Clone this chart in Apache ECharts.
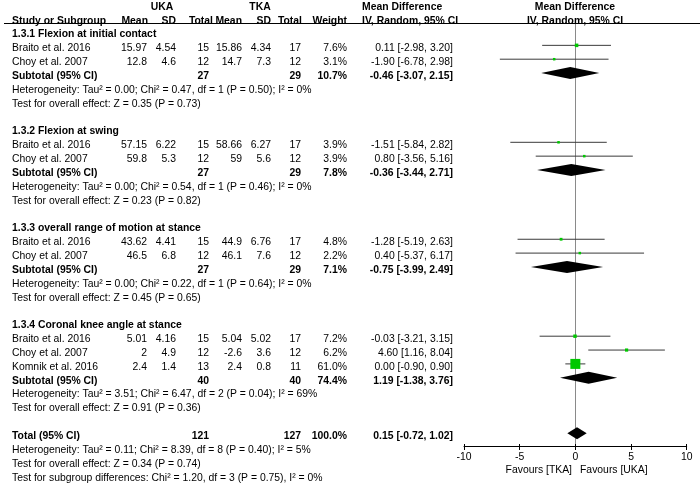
<!DOCTYPE html>
<html><head><meta charset="utf-8">
<script src="https://cdn.jsdelivr.net/npm/echarts@6/dist/echarts.min.js"></script>
<style>html,body{margin:0;padding:0;background:#fff}#c{width:700px;height:483px}</style>
</head><body><div id="c"></div>
<script>
// ---------------- DATA ----------------
const groupTitles = ['1.3.1 Flexion at initial contact', '1.3.2 Flexion at swing', '1.3.3 overall range of motion at stance', '1.3.4 Coronal knee angle at stance'];
const studyNames = ['Braito et al. 2016', 'Choy et al. 2007', 'Braito et al. 2016', 'Choy et al. 2007', 'Braito et al. 2016', 'Choy et al. 2007', 'Braito et al. 2016', 'Choy et al. 2007', 'Komnik et al. 2016'];
const studyGroup = [0, 0, 1, 1, 2, 2, 3, 3, 3];
const ukaMean = [15.97, 12.8, 57.15, 59.8, 43.62, 46.5, 5.01, 2, 2.4];
const ukaSD = [4.54, 4.6, 6.22, 5.3, 4.41, 6.8, 4.16, 4.9, 1.4];
const ukaN = [15, 12, 15, 12, 15, 12, 15, 12, 13];
const tkaMean = [15.86, 14.7, 58.66, 59, 44.9, 46.1, 5.04, -2.6, 2.4];
const tkaSD = [4.34, 7.3, 6.27, 5.6, 6.76, 7.6, 5.02, 3.6, 0.8];
const tkaN = [17, 12, 17, 12, 17, 12, 17, 12, 11];
const studyWeight = [7.6, 3.1, 3.9, 3.9, 4.8, 2.2, 7.2, 6.2, 61.0];
const studyMD = [0.11, -1.90, -1.51, 0.80, -1.28, 0.40, -0.03, 4.60, 0.00];
const studyLo = [-2.98, -6.78, -5.84, -3.56, -5.19, -5.37, -3.21, 1.16, -0.90];
const studyHi = [3.20, 2.98, 2.82, 5.16, 2.63, 6.17, 3.15, 8.04, 0.90];

const subUkaN = [27, 27, 27, 40];
const subTkaN = [29, 29, 29, 40];
const subWeight = [10.7, 7.8, 7.1, 74.4];
const subMD = [-0.46, -0.36, -0.75, 1.19];
const subLo = [-3.07, -3.44, -3.99, -1.38];
const subHi = [2.15, 2.71, 2.49, 3.76];
const subHet = [
  'Heterogeneity: Tau² = 0.00; Chi² = 0.47, df = 1 (P = 0.50); I² = 0%',
  'Heterogeneity: Tau² = 0.00; Chi² = 0.54, df = 1 (P = 0.46); I² = 0%',
  'Heterogeneity: Tau² = 0.00; Chi² = 0.22, df = 1 (P = 0.64); I² = 0%',
  'Heterogeneity: Tau² = 3.51; Chi² = 6.47, df = 2 (P = 0.04); I² = 69%'
];
const subTest = [
  'Test for overall effect: Z = 0.35 (P = 0.73)',
  'Test for overall effect: Z = 0.23 (P = 0.82)',
  'Test for overall effect: Z = 0.45 (P = 0.65)',
  'Test for overall effect: Z = 0.91 (P = 0.36)'
];
const totalUkaN = [121];
const totalTkaN = [127];
const totalWeight = [100.0];
const totalMD = [0.15];
const totalLo = [-0.72];
const totalHi = [1.02];
const totalNotes = [
  'Heterogeneity: Tau² = 0.11; Chi² = 8.39, df = 8 (P = 0.40); I² = 5%',
  'Test for overall effect: Z = 0.34 (P = 0.74)',
  'Test for subgroup differences: Chi² = 1.20, df = 3 (P = 0.75), I² = 0%'
];
const xTicks = [-10, -5, 0, 5, 10];
const favourLabels = ['Favours [TKA]', 'Favours [UKA]'];

// ---------------- LAYOUT ----------------
const FONT = '"Liberation Sans", Arial, sans-serif';
const FS = 10.4;
const PLOT_L = 464, PLOT_R = 13.3;
const HEAD_Y = 23.5, AXIS_Y = 446;
const TXT_DY = 1, MARK_DY = -2;
const COL = { name: 12, um: 147, usd: 176, un: 209, tm: 242, tsd: 271, tn: 301, w: 347, ci: 453 };

function fmt2(v) { return v.toFixed(2); }
function ciText(m, l, h) { return fmt2(m) + ' [' + fmt2(l) + ', ' + fmt2(h) + ']'; }

const texts = [];
const studyRows = [];
const diamondRows = [];
function T(row, x, text, align, bold) { texts.push({ row, x, text: String(text), align: align || 'right', bold: !!bold }); }

// header
T(-2, 162, 'UKA', 'center', true);
T(-2, 260, 'TKA', 'center', true);
T(-2, 362, 'Mean Difference', 'left', true);
T(-2, 575, 'Mean Difference', 'center', true);
T(-1, COL.name, 'Study or Subgroup', 'left', true);
T(-1, 148, 'Mean', 'right', true);
T(-1, COL.usd, 'SD', 'right', true);
T(-1, 213, 'Total', 'right', true);
T(-1, COL.tm, 'Mean', 'right', true);
T(-1, COL.tsd, 'SD', 'right', true);
T(-1, 302, 'Total', 'right', true);
T(-1, COL.w, 'Weight', 'right', true);
T(-1, 362, 'IV, Random, 95% CI', 'left', true);
T(-1, 575, 'IV, Random, 95% CI', 'center', true);

let r = 0;
groupTitles.forEach((g, gi) => {
  T(r, COL.name, g, 'left', true); r++;
  studyGroup.forEach((sg, si) => {
    if (sg !== gi) return;
    T(r, COL.name, studyNames[si], 'left');
    T(r, COL.um, ukaMean[si]); T(r, COL.usd, ukaSD[si]); T(r, COL.un, ukaN[si]);
    T(r, COL.tm, tkaMean[si]); T(r, COL.tsd, tkaSD[si]); T(r, COL.tn, tkaN[si]);
    T(r, COL.w, studyWeight[si].toFixed(1) + '%');
    T(r, COL.ci, ciText(studyMD[si], studyLo[si], studyHi[si]));
    studyRows.push([studyMD[si], r, studyLo[si], studyHi[si], studyWeight[si]]);
    r++;
  });
  T(r, COL.name, 'Subtotal (95% CI)', 'left', true);
  T(r, COL.un, subUkaN[gi], 'right', true);
  T(r, COL.tn, subTkaN[gi], 'right', true);
  T(r, COL.w, subWeight[gi].toFixed(1) + '%', 'right', true);
  T(r, COL.ci, ciText(subMD[gi], subLo[gi], subHi[gi]), 'right', true);
  diamondRows.push([subMD[gi], r, subLo[gi], subHi[gi]]);
  r++;
  T(r, COL.name, subHet[gi], 'left'); r++;
  T(r, COL.name, subTest[gi], 'left'); r++;
  r++;
});
T(r, COL.name, 'Total (95% CI)', 'left', true);
T(r, COL.un, totalUkaN[0], 'right', true);
T(r, COL.tn, totalTkaN[0], 'right', true);
T(r, COL.w, totalWeight[0].toFixed(1) + '%', 'right', true);
T(r, COL.ci, ciText(totalMD[0], totalLo[0], totalHi[0]), 'right', true);
diamondRows.push([totalMD[0], r, totalLo[0], totalHi[0]]);
r++;
totalNotes.forEach(n => { T(r, COL.name, n, 'left'); r++; });

// row scale
const ROW0 = 33.5, ROWH = 13.85, H = 483;
const yMin = -ROW0 / ROWH, yMax = yMin + H / ROWH;

const chart = echarts.init(document.getElementById('c'), null, { renderer: 'canvas' });
chart.setOption({
  animation: false,
  grid: [
    { left: PLOT_L, right: PLOT_R, top: 0, bottom: 0 },
    { left: PLOT_L, right: PLOT_R, top: HEAD_Y, height: AXIS_Y - HEAD_Y }
  ],
  xAxis: [
    { gridIndex: 0, type: 'value', min: -10, max: 10, show: false },
    { gridIndex: 1, type: 'value', min: -10, max: 10, interval: 5,
      axisLine: { show: true, onZero: false, lineStyle: { color: '#000', width: 1 } },
      axisTick: { show: true, length: 4, lineStyle: { color: '#000' } },
      axisLabel: { color: '#000', fontFamily: FONT, fontSize: FS, margin: 6,
        formatter: v => (xTicks.indexOf(v) >= 0 ? String(v) : '') },
      splitLine: { show: false } },
    { gridIndex: 1, type: 'value', min: -10, max: 10, interval: 5, position: 'bottom',
      axisLine: { show: false }, axisLabel: { show: false }, splitLine: { show: false },
      axisTick: { show: true, inside: true, length: 2, lineStyle: { color: '#000' } } }
  ],
  yAxis: [
    { gridIndex: 0, type: 'value', inverse: true, min: yMin, max: yMax, show: false },
    { gridIndex: 1, type: 'value', min: 0, max: 1,
      axisLine: { show: true, onZero: true, lineStyle: { color: '#8a8a8a', width: 1 } },
      axisTick: { show: false }, axisLabel: { show: false }, splitLine: { show: false } }
  ],
  graphic: [
    { type: 'line', shape: { x1: 4, y1: HEAD_Y, x2: 700, y2: HEAD_Y }, style: { stroke: '#000', lineWidth: 1 } },
    { type: 'text', x: 572, y: AXIS_Y + 24, style: { text: favourLabels[0], align: 'right', verticalAlign: 'middle', fill: '#000', font: FS + 'px ' + FONT } },
    { type: 'text', x: 580, y: AXIS_Y + 24, style: { text: favourLabels[1], align: 'left', verticalAlign: 'middle', fill: '#000', font: FS + 'px ' + FONT } }
  ],
  series: [
    { type: 'custom', xAxisIndex: 0, yAxisIndex: 0, clip: false,
      data: texts.map((t, i) => [0, t.row, i]),
      renderItem: function (params, api) {
        const t = texts[api.value(2)];
        const y = api.coord([0, api.value(1)])[1] + TXT_DY;
        return { type: 'text', x: t.x, y: y,
          style: { text: t.text, x: 0, y: 0, align: t.align, verticalAlign: 'middle', fill: '#000',
            font: (t.bold ? 'bold ' : '') + FS + 'px ' + FONT } };
      } },
    { type: 'custom', xAxisIndex: 0, yAxisIndex: 0, clip: false, z: 5,
      data: studyRows,
      renderItem: function (params, api) {
        const row = api.value(1);
        const pL = api.coord([api.value(2), row]);
        const pH = api.coord([api.value(3), row]);
        const pM = api.coord([api.value(0), row]);
        const y = pM[1] + MARK_DY;
        const s = Math.max(2.5, 10 * Math.sqrt(api.value(4) / 61));
        return { type: 'group', children: [
          { type: 'line', shape: { x1: pL[0], y1: y, x2: pH[0], y2: y }, style: { stroke: '#3a3a3a', lineWidth: 1 } },
          { type: 'rect', shape: { x: pM[0] - s / 2, y: y - s / 2, width: s, height: s }, style: { fill: '#00c800' } }
        ] };
      } },
    { type: 'custom', xAxisIndex: 0, yAxisIndex: 0, clip: false, z: 5,
      data: diamondRows,
      renderItem: function (params, api) {
        const row = api.value(1);
        const pL = api.coord([api.value(2), row]);
        const pH = api.coord([api.value(3), row]);
        const pM = api.coord([api.value(0), row]);
        const y = pM[1] + MARK_DY, h = 6;
        return { type: 'polygon', shape: { points: [[pL[0], y], [pM[0], y - h], [pH[0], y], [pM[0], y + h]] },
          style: { fill: '#000' } };
      } }
  ]
});
</script>
</body></html>
